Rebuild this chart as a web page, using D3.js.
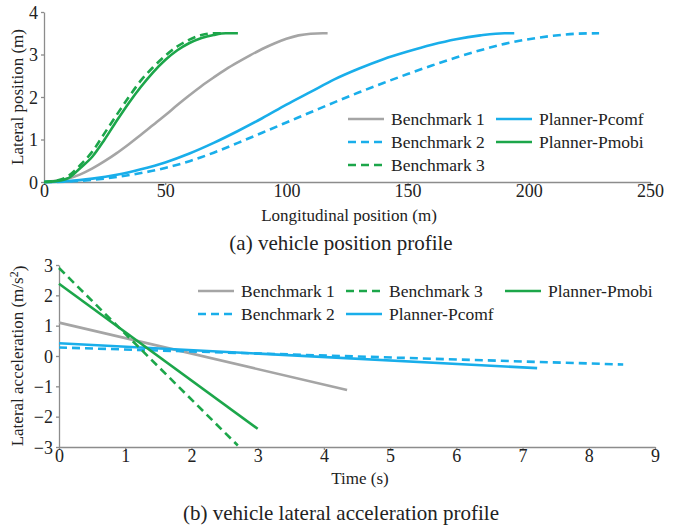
<!DOCTYPE html>
<html>
<head>
<meta charset="utf-8">
<script src="https://d3js.org/d3.v7.min.js"></script>
<style>
  body { margin: 0; background: #fff; }
  text { font-family: "Liberation Serif", "Times New Roman", serif; fill: #222; }
</style>
</head>
<body>
<svg id="chart" width="683" height="529"></svg>
<script>
// ---- data ----
// (a) lateral position (m) vs longitudinal position (m)
const posBench1 = [[0,0],[5,0.03],[10,0.08],[15,0.18],[20,0.32],[25,0.49],[30,0.68],[35,0.89],[40,1.11],[45,1.34],[50,1.57],[55,1.81],[60,2.04],[65,2.26],[70,2.46],[75,2.65],[80,2.82],[85,2.98],[90,3.13],[95,3.26],[100,3.37],[105,3.45],[110,3.49],[115,3.5],[117,3.5]];
const posBench2 = [[0,0],[10,0.01],[20,0.05],[30,0.12],[40,0.21],[50,0.33],[60,0.49],[70,0.69],[80,0.92],[90,1.16],[100,1.4],[110,1.64],[120,1.88],[130,2.11],[140,2.33],[150,2.54],[160,2.74],[170,2.93],[180,3.1],[190,3.25],[200,3.36],[210,3.44],[220,3.49],[229,3.5]];
const posBench3 = [[0,0],[5,0.03],[10,0.14],[15,0.4],[20,0.72],[25,1.15],[30,1.58],[35,2.0],[40,2.39],[45,2.7],[50,2.97],[55,3.19],[60,3.35],[65,3.46],[70,3.5],[73,3.5]];
const posPcomf  = [[0,0],[10,0.02],[20,0.08],[30,0.17],[40,0.3],[50,0.46],[60,0.67],[70,0.92],[80,1.2],[90,1.5],[100,1.82],[110,2.12],[120,2.42],[130,2.67],[140,2.89],[150,3.07],[160,3.23],[170,3.36],[180,3.45],[190,3.5],[194,3.5]];
const posPmobi  = [[0,0],[5,0.02],[10,0.09],[15,0.33],[20,0.6],[25,1.0],[30,1.44],[35,1.86],[40,2.24],[45,2.58],[50,2.87],[55,3.1],[60,3.27],[65,3.39],[70,3.46],[75,3.5],[80,3.5]];

// (b) lateral acceleration (m/s^2) vs time (s)
const accBench1 = [[0,1.1],[4.35,-1.12]];
const accBench2 = [[0,0.28],[8.52,-0.28]];
const accBench3 = [[0,2.9],[2.7,-2.95]];
const accPcomf  = [[0,0.42],[7.22,-0.4]];
const accPmobi  = [[0,2.38],[3.0,-2.4]];

const posTicksX = [0,50,100,150,200,250];
const posTicksY = [0,1,2,3,4];
const accTicksX = [0,1,2,3,4,5,6,7,8,9];
const accTicksY = [-3,-2,-1,0,1,2,3];

const gray = "#a5a5a5", blue = "#19aeea", green = "#1ca64a";
const dash = "8,5";

const svg = d3.select("#chart");

function drawAxes(g, x, y, xt, yt) {
  const fmt = d3.format("d");
  const xa = g.append("g").attr("transform", `translate(0,${y.range()[0]})`)
    .call(d3.axisBottom(x).tickValues(xt).tickFormat(fmt).tickSize(3).tickSizeOuter(0));
  const ya = g.append("g").attr("transform", `translate(${x.range()[0]},0)`)
    .call(d3.axisLeft(y).tickValues(yt).tickFormat(fmt).tickSize(3).tickSizeOuter(0));
  [xa, ya].forEach(a => {
    a.attr("font-family", null);
    a.selectAll("path, line").attr("stroke", "#8c8c8c").attr("stroke-width", 1.3);
    a.selectAll("text").style("font-size", "18px").attr("fill", "#222");
  });
  xa.selectAll("text").attr("y", 2).attr("dy", "0.71em");
  ya.selectAll("text").attr("dy", "0.34em");
}

function drawSeries(g, list, x, y, curve) {
  const line = d3.line().x(d => x(d[0])).y(d => y(d[1])).curve(curve);
  list.forEach(s => {
    g.append("path").datum(s.data)
      .attr("d", line)
      .attr("fill", "none")
      .attr("stroke", s.color)
      .attr("stroke-width", 2.6)
      .attr("stroke-dasharray", s.dashed ? dash : null);
  });
}

function drawLegend(g, items) {
  items.forEach(it => {
    g.append("line")
      .attr("x1", it.x).attr("x2", it.x + 36)
      .attr("y1", it.y).attr("y2", it.y)
      .attr("stroke", it.color).attr("stroke-width", 2.6)
      .attr("stroke-dasharray", it.dashed ? dash : null);
    g.append("text")
      .attr("x", it.x + 43).attr("y", it.y + 6)
      .style("font-size", "17.5px")
      .text(it.label);
  });
}

// ---------- (a) ----------
const gA = svg.append("g");
const xA = d3.scaleLinear().domain([0,250]).range([44,650]);
const yA = d3.scaleLinear().domain([0,4]).range([182,12]);
drawAxes(gA, xA, yA, posTicksX, posTicksY);
drawSeries(gA, [
  {data: posBench1, color: gray},
  {data: posBench2, color: blue, dashed: true},
  {data: posPcomf, color: blue},
  {data: posBench3, color: green, dashed: true},
  {data: posPmobi, color: green}
], xA, yA, d3.curveMonotoneX);

drawLegend(gA, [
  {label: "Benchmark 1", color: gray, x: 348, y: 119},
  {label: "Benchmark 2", color: blue, dashed: true, x: 348, y: 142},
  {label: "Benchmark 3", color: green, dashed: true, x: 348, y: 165},
  {label: "Planner-Pcomf", color: blue, x: 496, y: 119},
  {label: "Planner-Pmobi", color: green, x: 496, y: 142}
]);

gA.append("text").attr("x", 349).attr("y", 221).attr("text-anchor", "middle")
  .style("font-size", "17px").text("Longitudinal position (m)");
gA.append("text").attr("transform", "translate(23,97) rotate(-90)").attr("text-anchor", "middle")
  .style("font-size", "17px").text("Lateral position (m)");
gA.append("text").attr("x", 341).attr("y", 250).attr("text-anchor", "middle")
  .style("font-size", "21px").text("(a) vehicle position profile");

// ---------- (b) ----------
const gB = svg.append("g");
const xB = d3.scaleLinear().domain([0,9]).range([59,655]);
const yB = d3.scaleLinear().domain([-3,3]).range([447,265]);
drawAxes(gB, xB, yB, accTicksX, accTicksY);
drawSeries(gB, [
  {data: accBench1, color: gray},
  {data: accBench2, color: blue, dashed: true},
  {data: accPcomf, color: blue},
  {data: accBench3, color: green, dashed: true},
  {data: accPmobi, color: green}
], xB, yB, d3.curveLinear);

drawLegend(gB, [
  {label: "Benchmark 1", color: gray, x: 198, y: 291},
  {label: "Benchmark 2", color: blue, dashed: true, x: 198, y: 314},
  {label: "Benchmark 3", color: green, dashed: true, x: 346, y: 291},
  {label: "Planner-Pcomf", color: blue, x: 346, y: 314},
  {label: "Planner-Pmobi", color: green, x: 505, y: 291}
]);

gB.append("text").attr("x", 360).attr("y", 484).attr("text-anchor", "middle")
  .style("font-size", "17px").text("Time (s)");
const yt = gB.append("text").attr("transform", "translate(23,356) rotate(-90)").attr("text-anchor", "middle")
  .style("font-size", "17px");
yt.append("tspan").text("Lateral acceleration (m/s");
yt.append("tspan").attr("dy", "-0.45em").style("font-size", "12px").text("2");
yt.append("tspan").attr("dy", "0.45em").text(")");
gB.append("text").attr("x", 341).attr("y", 520).attr("text-anchor", "middle")
  .style("font-size", "21px").text("(b) vehicle lateral acceleration profile");
</script>
</body>
</html>
